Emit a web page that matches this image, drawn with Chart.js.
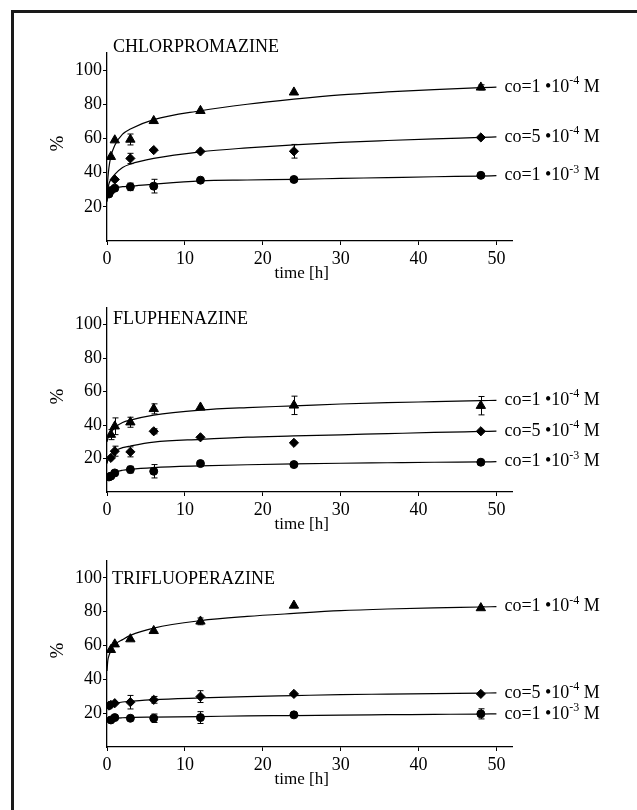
<!DOCTYPE html>
<html>
<head>
<meta charset="utf-8">
<script src="https://cdn.jsdelivr.net/npm/chart.js@4"></script>
<style>
  html, body { margin:0; padding:0; background:#fff; overflow:hidden; }
  body { width:637px; height:810px; position:relative; }
  #frame { position:absolute; left:11px; top:10px; width:700px; height:900px;
           border-left:3px solid #1a1a1a; border-top:3px solid #1a1a1a; box-sizing:border-box; }
  canvas { position:absolute; left:0; }
</style>
</head>
<body>
<div id="frame"></div>
<canvas id="c1" width="637" height="290" style="top:0px"></canvas>
<canvas id="c2" width="637" height="250" style="top:290px"></canvas>
<canvas id="c3" width="637" height="270" style="top:540px"></canvas>
<script>
// ---------- data ----------
const times = [0.25, 0.5, 1, 3, 6, 12, 24, 48];
const curveTimes = [0, 0.1, 0.25, 0.5, 1, 2, 3, 6, 12, 18, 24, 30, 36, 42, 48, 50];
const xTicks = [0, 10, 20, 30, 40, 50];
const yTicks = [20, 40, 60, 80, 100];
const drugNames = ['CHLORPROMAZINE', 'FLUPHENAZINE', 'TRIFLUOPERAZINE'];
const concLabels = [['co=1 \u202210', '-4', ' M'], ['co=5 \u202210', '-4', ' M'], ['co=1 \u202210', '-3', ' M']];

// Chlorpromazine
const cpzHighPts = [null, 49.3, 59, 59.4, 70.3, 76.2, 87, 89.9];
const cpzHighErr = [0, 0, 0, 3.2, 0, 0, 0, 1.5];
const cpzMidPts  = [null, null, 36, 48.3, 53.2, 52.4, 52.5, 60.6];
const cpzMidErr  = [0, 0, 0, 3, 0, 0, 4, 0];
const cpzLowPts  = [27.5, 29.5, 30.9, 31.7, 32.1, 35.6, 36, 38.4];
const cpzLowErr  = [0, 0, 0, 2.2, 4, 0, 0, 1];
const cpzHighCurve = [28, 36, 43, 49.5, 56, 62.5, 65.5, 71, 76.2, 80, 83, 85.5, 87.2, 88.6, 89.7, 90];
const cpzMidCurve  = [26, 30, 33.5, 36, 39, 43, 45, 48.3, 52.2, 54.5, 56.3, 57.7, 58.8, 59.8, 60.6, 60.9];
const cpzLowCurve  = [23, 26, 28, 29.8, 31, 31.8, 32.1, 33.3, 35.2, 35.7, 36.1, 36.6, 37.1, 37.6, 38, 38.2];

// Fluphenazine
const flHighPts = [null, 34.3, 39.3, 41.7, 49.7, 50.6, 51.8, 51.6];
const flHighErr = [0, 3, 5, 3, 3, 0, 5.5, 5.5];
const flMidPts  = [null, 20.4, 24.4, 24, 36.3, 32.7, 29.4, 36.3];
const flMidErr  = [0, 0, 3, 3, 1.5, 0, 0, 0];
const flLowPts  = [9, 9.5, 11.4, 13.4, 12.4, 17, 16.4, 17.8];
const flLowErr  = [0, 0, 0, 2, 4, 0, 0, 0];
const flHighCurve = [30, 32, 33.5, 35.5, 38.5, 41.5, 43, 46, 49, 50.5, 51.5, 52.6, 53.4, 54, 54.6, 54.8];
const flMidCurve  = [17, 19, 20.5, 22, 24.5, 26.5, 27.5, 29.8, 31.5, 32.8, 33.5, 34.2, 34.9, 35.6, 36.2, 36.4];
const flLowCurve  = [8, 8.8, 9.5, 10.5, 11.8, 13, 13.6, 14.6, 15.6, 16.3, 16.8, 17.2, 17.5, 17.8, 18, 18.1];

// Trifluoperazine
const tfHighPts = [null, 57.5, 60.8, 63.8, 68.7, 74.3, 83.7, 82.2];
const tfHighErr = [0, 0, 0, 0, 0, 2, 0, 0.8];
const tfMidPts  = [24.5, 24.9, 25.9, 26.5, 27.9, 29.8, 31.4, 31.4];
const tfMidErr  = [0, 0, 0, 4, 2, 3.5, 0, 0];
const tfLowPts  = [null, 16, 17.4, 17, 17, 17.4, 19, 19.6];
const tfLowErr  = [0, 0, 0, 1, 2.5, 3.5, 0, 3];
const tfHighCurve = [45, 51, 54, 57, 60.5, 63.5, 66, 70.3, 74.7, 77.2, 79, 80.6, 81.6, 82.3, 82.8, 83];
const tfMidCurve  = [24, 24.3, 24.6, 25, 25.8, 26.6, 27, 28, 29, 29.8, 30.4, 31, 31.3, 31.6, 31.9, 32];
const tfLowCurve  = [16, 16.2, 16.4, 16.7, 17, 17.3, 17.5, 17.7, 18, 18.4, 18.6, 18.9, 19.1, 19.3, 19.5, 19.6];

// ---------- drawing ----------
const FONT = '"Liberation Serif", "Times New Roman", serif';
const styles = [{ s: 'triangle', r: 5.4 }, { s: 'rectRot', r: 4.6 }, { s: 'circle', r: 4.0 }];

const decor = {
  id: 'decor',
  afterDatasetsDraw(chart, args, opts) {
    const ctx = chart.ctx, xs = chart.scales.x, ys = chart.scales.y, ca = chart.chartArea;
    ctx.save();
    // error bars
    ctx.strokeStyle = '#000'; ctx.lineWidth = 1;
    chart.data.datasets.forEach(ds => {
      if (!ds.isMarker) return;
      ds.data.forEach(p => {
        if (!p.e) return;
        const px = Math.round(xs.getPixelForValue(p.x)) + 0.5;
        const y1 = ys.getPixelForValue(p.y + p.e), y2 = ys.getPixelForValue(p.y - p.e);
        ctx.beginPath();
        ctx.moveTo(px, y1); ctx.lineTo(px, y2);
        ctx.moveTo(px - 3, y1); ctx.lineTo(px + 3, y1);
        ctx.moveTo(px - 3, y2); ctx.lineTo(px + 3, y2);
        ctx.stroke();
      });
    });
    ctx.fillStyle = '#000';
    // title
    ctx.font = '18px ' + FONT;
    ctx.textAlign = 'left'; ctx.textBaseline = 'alphabetic';
    ctx.fillText(opts.title, opts.titleX, opts.titleY);
    // y label
    ctx.save();
    ctx.translate(58, ys.getPixelForValue(57));
    ctx.rotate(-Math.PI / 2);
    ctx.textAlign = 'center'; ctx.textBaseline = 'middle';
    ctx.font = '19px ' + FONT;
    ctx.fillText('%', 0, 0);
    ctx.restore();
    // x label
    ctx.textAlign = 'center'; ctx.textBaseline = 'middle';
    ctx.font = '17px ' + FONT;
    ctx.fillText('time [h]', xs.getPixelForValue(25), ca.bottom + 33);
    // concentration labels at curve ends
    ctx.textAlign = 'left'; ctx.textBaseline = 'middle';
    opts.ends.forEach((v, i) => {
      let x = xs.getPixelForValue(50) + 8;
      const y = ys.getPixelForValue(v);
      const parts = concLabels[i];
      ctx.font = '18px ' + FONT;
      ctx.fillText(parts[0], x, y);
      x += ctx.measureText(parts[0]).width;
      ctx.font = '12px ' + FONT;
      ctx.fillText(parts[1], x, y - 6);
      x += ctx.measureText(parts[1]).width;
      ctx.font = '18px ' + FONT;
      ctx.fillText(parts[2], x, y);
    });
    ctx.restore();
  }
};

function makeChart(id, name, series, padTop, xAxisH, titleX, titleY) {
  const datasets = [];
  const ends = [];
  series.forEach((s, k) => {
    datasets.push({
      type: 'line',
      data: curveTimes.map((t, i) => ({ x: t, y: s.curve[i] })),
      borderColor: '#000', borderWidth: 1.2, pointRadius: 0,
      cubicInterpolationMode: 'monotone', fill: false
    });
    ends.push(s.curve[s.curve.length - 1]);
    datasets.push({
      type: 'scatter', isMarker: true,
      data: times.map((t, i) => ({ x: t, y: s.pts[i], e: s.err[i] })).filter(p => p.y !== null),
      pointStyle: styles[k].s, pointRadius: styles[k].r, pointHoverRadius: styles[k].r,
      backgroundColor: '#000', borderColor: '#000', borderWidth: 1
    });
  });
  const tickFont = { family: FONT, size: 18 };
  return new Chart(document.getElementById(id), {
    type: 'scatter',
    data: { datasets },
    plugins: [decor],
    options: {
      responsive: false, animation: false,
      layout: { padding: { top: padTop, left: 0, right: 125, bottom: 0 } },
      plugins: {
        legend: { display: false }, tooltip: { enabled: false },
        decor: { title: name, titleX, titleY, ends }
      },
      scales: {
        x: {
          type: 'linear', min: 0, max: 52,
          afterBuildTicks: sc => { sc.ticks = xTicks.map(v => ({ value: v })); },
          afterFit: sc => { sc.height = xAxisH; },
          grid: { drawOnChartArea: false, drawTicks: true, tickLength: 4, color: '#000', lineWidth: 1 },
          border: { display: true, color: '#000', width: 1.3 },
          ticks: { color: '#000', font: tickFont, padding: 3, maxRotation: 0, autoSkip: false }
        },
        y: {
          type: 'linear', min: 0, max: 110,
          afterBuildTicks: sc => { sc.ticks = yTicks.map(v => ({ value: v })); },
          afterFit: sc => { sc.width = 107; },
          grid: { drawOnChartArea: false, drawTicks: true, tickLength: 4, color: '#000', lineWidth: 1 },
          border: { display: true, color: '#000', width: 1.3 },
          ticks: { color: '#000', font: tickFont, padding: 1 }
        }
      }
    }
  });
}

makeChart('c1', drugNames[0], [
  { pts: cpzHighPts, err: cpzHighErr, curve: cpzHighCurve },
  { pts: cpzMidPts, err: cpzMidErr, curve: cpzMidCurve },
  { pts: cpzLowPts, err: cpzLowErr, curve: cpzLowCurve }
], 53, 49, 113, 52);
makeChart('c2', drugNames[1], [
  { pts: flHighPts, err: flHighErr, curve: flHighCurve },
  { pts: flMidPts, err: flMidErr, curve: flMidCurve },
  { pts: flLowPts, err: flLowErr, curve: flLowCurve }
], 18, 48, 113, 34);
makeChart('c3', drugNames[2], [
  { pts: tfHighPts, err: tfHighErr, curve: tfHighCurve },
  { pts: tfMidPts, err: tfMidErr, curve: tfMidCurve },
  { pts: tfLowPts, err: tfLowErr, curve: tfLowCurve }
], 21, 63, 112, 44);
</script>
</body>
</html>
